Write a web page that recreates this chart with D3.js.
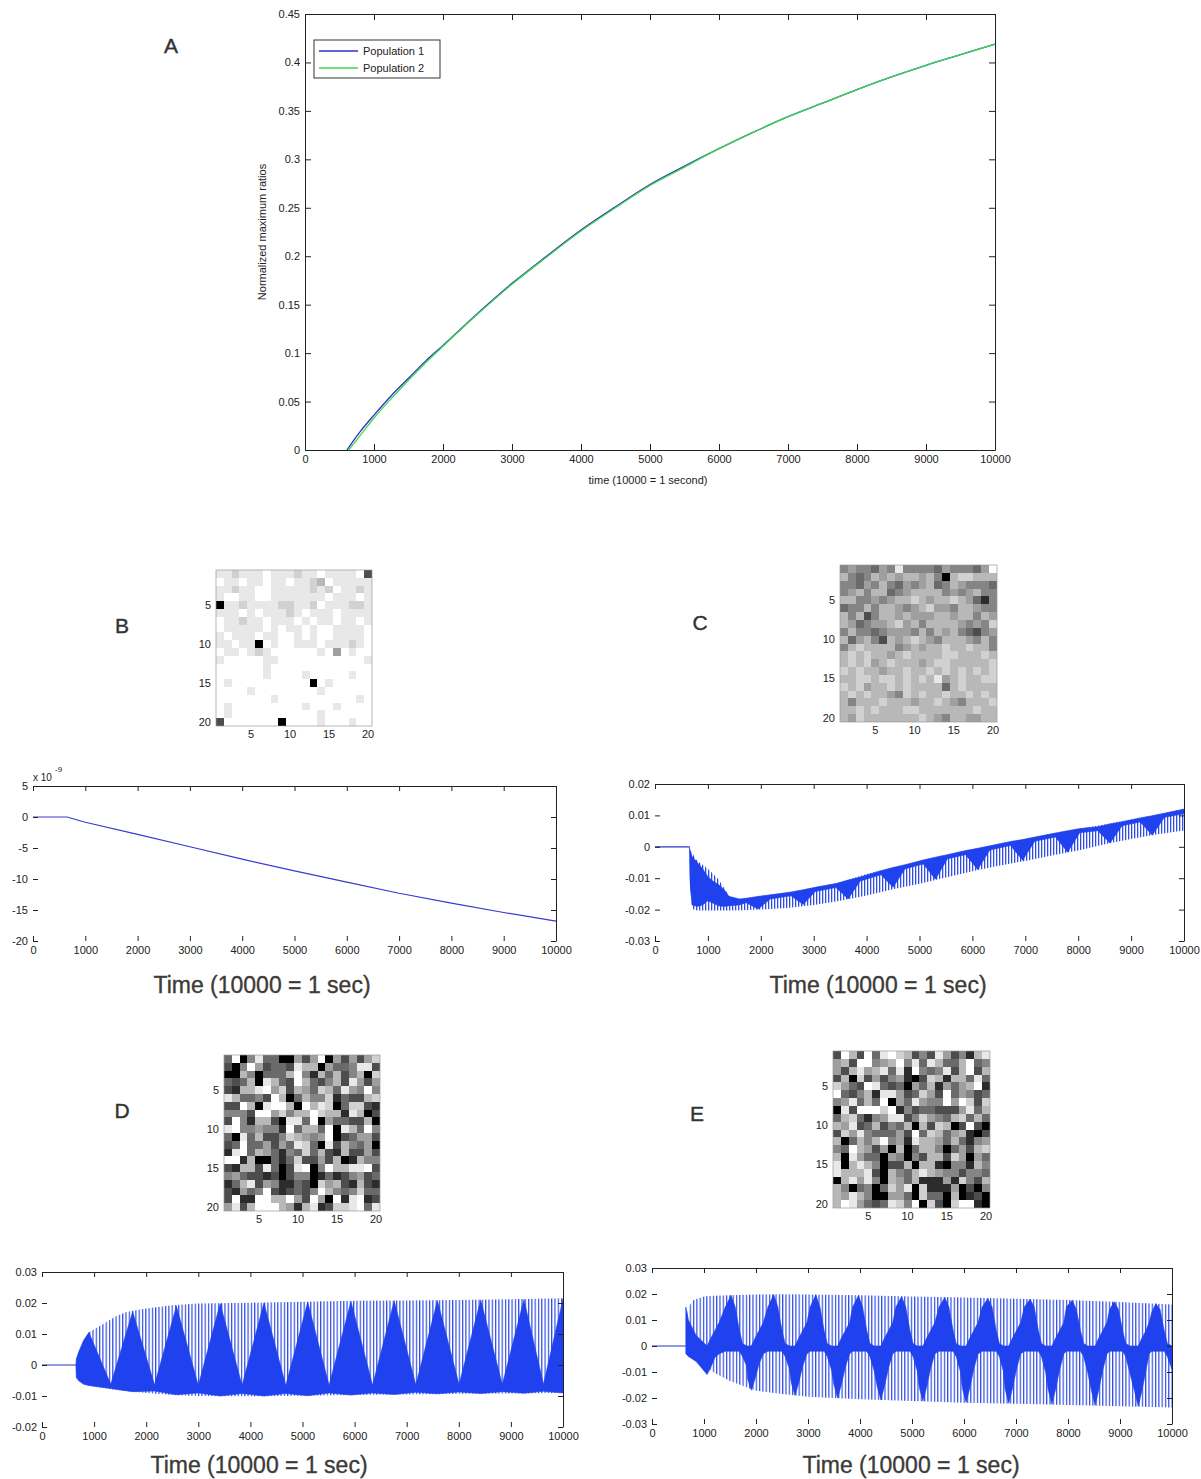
<!DOCTYPE html>
<html>
<head>
<meta charset="utf-8">
<script src="https://cdn.jsdelivr.net/npm/d3@7"></script>
<style>
  body { margin: 0; background: #fff; }
  svg text { font-family: "Liberation Sans", Arial, sans-serif; }
</style>
</head>
<body>
<svg id="fig" width="1201" height="1479"></svg>
<script>
// ---------- data ----------
const timeTicks = [0, 1000, 2000, 3000, 4000, 5000, 6000, 7000, 8000, 9000, 10000];

// panel A: normalized maximum ratios
const timeA = [609, 700, 800, 1000, 1250, 1500, 1750, 2000, 2500, 3000, 3500, 4000, 4500, 5000, 5500, 6000, 6500, 7000, 7500, 8000, 8500, 9000, 9500, 10000];
const pop1 = [0, 0.0095, 0.019, 0.036, 0.056, 0.074, 0.092, 0.108, 0.141, 0.172, 0.2, 0.227, 0.251, 0.274, 0.293, 0.311, 0.328, 0.344, 0.358, 0.372, 0.385, 0.397, 0.408, 0.419];
const timeA2 = [635, 700, 800, 1000, 1250, 1500, 1750, 2000, 2500, 3000, 3500, 4000, 4500, 5000, 5500, 6000, 6500, 7000, 7500, 8000, 8500, 9000, 9500, 10000];
const pop2 = [0, 0.006, 0.015, 0.033, 0.053, 0.072, 0.09, 0.107, 0.14, 0.171, 0.199, 0.226, 0.25, 0.273, 0.292, 0.311, 0.328, 0.344, 0.358, 0.372, 0.385, 0.397, 0.408, 0.419];
const ticksA = [0, 0.05, 0.1, 0.15, 0.2, 0.25, 0.3, 0.35, 0.4, 0.45];
const labelsA = ["0", "0.05", "0.1", "0.15", "0.2", "0.25", "0.3", "0.35", "0.4", "0.45"];

// weight matrices, 0 = black ... 9 = white
const heatB = [
  "88788 89888 78898 88892", "98898 89889 88769 88888", "88788 99888 88787 98878", "89988 99888 88889 88898",
  "08878 88877 88798 88778", "88898 98887 89888 98888", "98878 89888 98988 98898", "98888 89898 89899 88889",
  "89888 98899 89899 88889", "88988 09899 88898 88789", "98898 78999 99989 59899", "89999 98899 99999 99998",
  "99999 98999 99999 99999", "99999 98999 98999 99899", "98999 99999 99098 99999", "99998 99999 99989 99999",
  "99999 99899 99999 99989", "98999 99999 98999 89999", "98999 99999 99989 99999", "29999 99909 99989 99899"
];
const heatC = [
  "45443 54844 44354 44359", "64346 56566 56406 77666", "44354 64354 56346 54443", "45646 63456 66645 45644",
  "66445 45667 65667 65314", "34464 66545 67554 66544", "64624 66565 55665 66465", "65345 56756 46666 54547",
  "46443 45554 64656 43245", "63564 26567 65466 65464", "46766 66456 56676 67664", "67676 65676 66677 66676",
  "67675 67666 56776 66667", "76766 56676 67676 76767", "66776 77676 76856 76677", "76756 67676 66636 76666",
  "67676 65476 76676 67676", "64666 76665 66765 46667", "66767 66677 66666 66766", "65766 66666 76546 65566"
];
const heatD = [
  "39048 33005 25905 25257", "20495 23328 66053 34882", "00640 33369 41636 24607", "32360 86329 63246 28525",
  "21668 95726 53763 85494", "86334 29603 64471 32267", "22960 89960 96870 37721", "44429 95746 69766 18602",
  "29416 62088 39053 32260", "89445 44193 66390 86394", "30836 22476 54590 23552", "23933 52538 73082 64350",
  "18936 53143 73621 62252", "99160 03137 22526 01644", "21662 83028 90496 68892", "45322 12024 40131 24523",
  "13682 54113 20756 21621", "21534 92123 24964 34733", "29119 96695 29509 18912", "58269 99651 68127 78938"
];
const heatE = [
  "29629 38976 24285 24168", "56299 45694 83863 36934", "52685 68381 94348 26926", "26072 52451 02761 66383",
  "75329 83230 53615 35691", "93246 18852 37529 35423", "45836 39053 85449 59727", "08299 97914 23322 25836",
  "36731 45882 47543 67363", "65823 62436 06276 02920", "27584 33352 93763 56102", "60364 69451 86653 63145",
  "43965 25060 36640 35267", "60853 30540 42662 75053", "80686 40226 06610 44164", "86668 20643 68654 42443",
  "06858 40653 61115 17426", "64034 03758 07111 50204", "65864 00553 07330 60120", "69853 23874 90720 79910"
];

// panel B trace (units of 1e-9)
const timeB = [0, 650, 1000, 2000, 3000, 4000, 5000, 6000, 7000, 8000, 9000, 10000];
const valueB = [0, 0, -0.85, -2.8, -4.8, -6.8, -8.7, -10.5, -12.3, -13.9, -15.4, -16.8];

// oscillating traces: [time, upper envelope, lower envelope]
const envC = [
  [650, 0, 0], [660, -0.001, -0.012], [700, -0.002, -0.0198], [800, -0.0045, -0.0203], [1000, -0.007, -0.0203],
  [1200, -0.0103, -0.0203], [1400, -0.0156, -0.0203], [1600, -0.0168, -0.0202], [2000, -0.0156, -0.02],
  [2500, -0.0147, -0.0195], [3000, -0.013, -0.0185], [3500, -0.0114, -0.0172], [4000, -0.0087, -0.0155],
  [4500, -0.0066, -0.0135], [5000, -0.0045, -0.0118], [5500, -0.0026, -0.0098], [6000, -0.0008, -0.0078],
  [6500, 0.0008, -0.006], [7000, 0.0025, -0.0045], [7500, 0.0041, -0.0028], [8000, 0.0057, -0.0012],
  [8500, 0.0071, 0.0008], [9000, 0.0086, 0.0025], [9500, 0.0103, 0.004], [10000, 0.012, 0.0052]
];
// dense (solid) part of the trace: [time, top, bottom]
const denseC = [
  [650, 0, 0], [660, -0.001, -0.01], [700, -0.003, -0.0185], [800, -0.005, -0.019], [900, -0.007, -0.0185],
  [1000, -0.0095, -0.0172], [1100, -0.011, -0.018], [1200, -0.012, -0.0188], [1300, -0.0135, -0.019],
  [1400, -0.0158, -0.0188], [1600, -0.0166, -0.0185], [1720, -0.0164, -0.0178], [1950, -0.0158, -0.0198],
  [2180, -0.0153, -0.0166], [2570, -0.0144, -0.0156], [2800, -0.0137, -0.0184], [3030, -0.0129, -0.0142],
  [3420, -0.0117, -0.013], [3650, -0.0106, -0.0166], [3880, -0.0096, -0.0109], [4270, -0.0076, -0.0089],
  [4500, -0.0066, -0.0129], [4730, -0.0057, -0.007], [5070, -0.0042, -0.0055], [5300, -0.0033, -0.0103],
  [5530, -0.0025, -0.0038], [5870, -0.0012, -0.0025], [6100, -0.0005, -0.0072], [6330, 0.0003, -0.001],
  [6720, 0.0017, 0.0004], [6950, 0.0023, -0.0043], [7180, 0.0031, 0.0018], [7570, 0.0044, 0.0031],
  [7800, 0.0051, -0.0017], [8030, 0.0058, 0.0045], [8370, 0.0064, 0.0051], [8600, 0.0073, 0.0012],
  [8830, 0.008, 0.0067], [9170, 0.0092, 0.0079], [9400, 0.0099, 0.0037], [9630, 0.0107, 0.0094],
  [10000, 0.012, 0.0105]
];

const envD = [
  [650, 0, 0], [660, 0.002, -0.004], [700, 0.004, -0.005], [800, 0.008, -0.0062], [900, 0.0105, -0.0066],
  [1000, 0.0115, -0.007], [1200, 0.0135, -0.0075], [1400, 0.0156, -0.008], [1600, 0.017, -0.0084],
  [1800, 0.0177, -0.0087], [2000, 0.0182, -0.009], [2500, 0.0193, -0.0097], [3000, 0.0198, -0.01],
  [4000, 0.0201, -0.0101], [5000, 0.0204, -0.0099], [6000, 0.0207, -0.0097], [7000, 0.0208, -0.0095],
  [8000, 0.021, -0.0093], [9000, 0.0212, -0.0092], [10000, 0.0215, -0.009]
];
const denseD = [
  [650, 0, 0], [660, 0.002, -0.004], [700, 0.004, -0.005], [800, 0.008, -0.0062], [900, 0.0105, -0.0066],
  [1320, -0.0062, -0.0076], [1740, 0.0172, -0.0086], [2160, -0.0064, -0.0084], [2580, 0.019, -0.0096],
  [3000, -0.0066, -0.009], [3420, 0.0198, -0.01], [3840, -0.0066, -0.0092], [4260, 0.02, -0.01],
  [4680, -0.0066, -0.0092], [5100, 0.0203, -0.0099], [5510, -0.0065, -0.009], [5930, 0.0205, -0.0097],
  [6345, -0.0065, -0.009], [6760, 0.0207, -0.0095], [7175, -0.0064, -0.0088], [7590, 0.0208, -0.0093],
  [8005, -0.0063, -0.0087], [8420, 0.021, -0.0092], [8835, -0.0063, -0.0086], [9250, 0.0211, -0.0091],
  [9625, -0.0062, -0.0085], [10000, 0.0213, -0.009]
];

const envE = [
  [650, 0, 0], [660, 0.01, -0.002], [700, 0.015, -0.003], [800, 0.0177, -0.0045], [1000, 0.019, -0.0074],
  [1200, 0.0193, -0.0103], [1500, 0.0195, -0.0135], [2000, 0.0198, -0.0172], [2500, 0.0199, -0.0185],
  [3000, 0.0198, -0.0195], [4000, 0.0195, -0.0205], [5000, 0.019, -0.0212], [6000, 0.0187, -0.0218],
  [7000, 0.0182, -0.0222], [8000, 0.0177, -0.0227], [9000, 0.0169, -0.0232], [10000, 0.016, -0.0237]
];
const denseE = [
  [650, 0.015, -0.003], [700, 0.01, -0.004], [850, 0.004, -0.006], [1060, 0, -0.011],
  [1130, 0.003, -0.0083], [1210, 0.006, -0.0044], [1290, 0.009, -0.003], [1410, 0.015, -0.002], [1520, 0.0195, -0.002],
  [1600, 0.015, -0.002], [1680, 0.006, -0.002], [1740, 0.001, -0.004], [1820, 0, -0.0077], [1840, 0, -0.0128], [1910, 0, -0.017],
  [1980, 0.003, -0.0128], [2060, 0.006, -0.0068], [2140, 0.009, -0.003], [2230, 0.015, -0.002], [2340, 0.0198, -0.002],
  [2420, 0.015, -0.002], [2500, 0.006, -0.002], [2560, 0.001, -0.004], [2640, 0, -0.0086], [2680, 0, -0.0143], [2750, 0, -0.019],
  [2820, 0.003, -0.0143], [2900, 0.006, -0.0076], [2980, 0.009, -0.003], [3040, 0.015, -0.002], [3150, 0.0197, -0.002],
  [3230, 0.015, -0.002], [3310, 0.006, -0.002], [3370, 0.001, -0.004], [3450, 0, -0.009], [3500, 0, -0.015], [3570, 0, -0.02],
  [3640, 0.003, -0.015], [3720, 0.006, -0.008], [3800, 0.009, -0.003], [3860, 0.015, -0.002], [3970, 0.0194, -0.002],
  [4050, 0.015, -0.002], [4130, 0.006, -0.002], [4190, 0.001, -0.004], [4270, 0, -0.0093], [4330, 0, -0.0155], [4400, 0, -0.0207],
  [4470, 0.003, -0.0155], [4550, 0.006, -0.0083], [4630, 0.009, -0.003], [4690, 0.015, -0.002], [4800, 0.019, -0.002],
  [4880, 0.015, -0.002], [4960, 0.006, -0.002], [5020, 0.001, -0.004], [5100, 0, -0.0095], [5140, 0, -0.0159], [5210, 0, -0.0212],
  [5280, 0.003, -0.0159], [5360, 0.006, -0.0085], [5440, 0.009, -0.003], [5520, 0.015, -0.002], [5630, 0.0187, -0.002],
  [5710, 0.015, -0.002], [5790, 0.006, -0.002], [5850, 0.001, -0.004], [5930, 0, -0.0098], [5970, 0, -0.0163], [6040, 0, -0.0217],
  [6110, 0.003, -0.0163], [6190, 0.006, -0.0087], [6270, 0.009, -0.003], [6350, 0.015, -0.002], [6460, 0.0183, -0.002],
  [6540, 0.015, -0.002], [6620, 0.006, -0.002], [6680, 0.001, -0.004], [6760, 0, -0.0099], [6790, 0, -0.0165], [6860, 0, -0.022],
  [6930, 0.003, -0.0165], [7010, 0.006, -0.0088], [7090, 0.009, -0.003], [7160, 0.015, -0.002], [7270, 0.018, -0.002],
  [7350, 0.015, -0.002], [7430, 0.006, -0.002], [7490, 0.001, -0.004], [7570, 0, -0.0101], [7620, 0, -0.0168], [7690, 0, -0.0224],
  [7760, 0.003, -0.0168], [7840, 0.006, -0.009], [7920, 0.009, -0.003], [7970, 0.015, -0.002], [8080, 0.0176, -0.002],
  [8160, 0.014, -0.002], [8240, 0.006, -0.002], [8300, 0.001, -0.004], [8380, 0, -0.0103], [8450, 0, -0.0171], [8520, 0, -0.0228],
  [8590, 0.003, -0.0171], [8670, 0.006, -0.0091], [8750, 0.009, -0.003], [8800, 0.014, -0.002], [8890, 0.017, -0.002],
  [8970, 0.014, -0.002], [9050, 0.006, -0.002], [9110, 0.001, -0.004], [9190, 0, -0.0104], [9280, 0, -0.0174], [9350, 0, -0.0232],
  [9420, 0.003, -0.0174], [9500, 0.006, -0.0093], [9560, 0.009, -0.003], [9610, 0.013, -0.002], [9690, 0.0163, -0.002],
  [9770, 0.014, -0.002], [9850, 0.006, -0.002], [9910, 0.001, -0.004], [10000, 0, -0.009]
];

// flat pre-stimulus segment shared by the traces
const preTime = [0, 650];
const preValue = [0, 0];

// ---------- drawing ----------
const svg = d3.select("#fig");
const defs = svg.append("defs");
const traceBlue = "#1f42ee";
const inkColor = "#222";

function addHatch(id, period, lineW) {
  const p = defs.append("pattern").attr("id", id)
    .attr("patternUnits", "userSpaceOnUse").attr("width", period).attr("height", 8);
  p.append("rect").attr("width", lineW).attr("height", 8).attr("fill", "#2f4ce6");
}
addHatch("hatchDense", 3.0, 1.3);
addHatch("hatchLight", 3.3, 1.2);

function panelLetter(txt, x, y) {
  svg.append("text").attr("x", x).attr("y", y).attr("text-anchor", "middle")
    .attr("dominant-baseline", "central").style("font-size", "21px")
    .style("fill", "#333").style("stroke", "#333").style("stroke-width", 0.4).text(txt);
}

function timeTitle(x, y) {
  svg.append("text").attr("x", x).attr("y", y).attr("text-anchor", "middle")
    .attr("dominant-baseline", "central").style("font-size", "23px")
    .style("fill", "#3d3a38").style("stroke", "#3d3a38").style("stroke-width", 0.35)
    .text("Time (10000 = 1 sec)");
}

// MATLAB-like frame: ticks point inwards on all four sides
function frame(g, x, y, yVals, yLabels, tick, full) {
  const bottom = g.append("g").attr("transform", `translate(0,${y.range()[0]})`)
    .call(d3.axisBottom(x).tickValues(timeTicks).tickFormat(d => d).tickSizeInner(-tick).tickSizeOuter(0).tickPadding(5));
  const left = g.append("g").attr("transform", `translate(${x.range()[0]},0)`)
    .call(d3.axisLeft(y).tickValues(yVals).tickFormat((d, i) => yLabels[i]).tickSizeInner(-tick).tickSizeOuter(0).tickPadding(5));
  g.append("g").attr("transform", `translate(0,${y.range()[1]})`)
    .call(d3.axisTop(x).tickValues(timeTicks).tickFormat("").tickSizeInner(-tick).tickSizeOuter(0));
  g.append("g").attr("transform", `translate(${x.range()[1]},0)`)
    .call(d3.axisRight(y).tickValues(yVals).tickFormat("").tickSizeInner(-tick).tickSizeOuter(0));
  if (!full) {
    bottom.select(".domain").remove();
    left.select(".domain").remove();
  }
  g.selectAll(".tick text").style("font-size", "11px");
  g.selectAll("path.domain, .tick line").attr("stroke", inkColor);
  g.style("color", inkColor);
}

// ----- panel A -----
{
  const x = d3.scaleLinear().domain([0, 10000]).range([305, 995]);
  const y = d3.scaleLinear().domain([0, 0.45]).range([450, 14]);
  const g = svg.append("g");
  const line = d3.line().x(d => x(d[0])).y(d => y(d[1])).curve(d3.curveMonotoneX);
  g.append("path").datum(d3.zip(timeA, pop1)).attr("d", line)
    .attr("fill", "none").attr("stroke", "#2a30c8").attr("stroke-width", 1.3);
  g.append("path").datum(d3.zip(timeA2, pop2)).attr("d", line)
    .attr("fill", "none").attr("stroke", "#3fd84a").attr("stroke-width", 1.3);
  frame(g, x, y, ticksA, labelsA, 6, true);

  svg.append("text").attr("transform", "translate(266,232) rotate(-90)").attr("text-anchor", "middle")
    .style("font-size", "11px").style("fill", inkColor).text("Normalized maximum ratios");
  svg.append("text").attr("x", 648).attr("y", 484).attr("text-anchor", "middle")
    .style("font-size", "11px").style("fill", inkColor).text("time (10000 = 1 second)");

  // legend
  const lg = svg.append("g").attr("transform", "translate(314,40)");
  lg.append("rect").attr("width", 126).attr("height", 38).attr("fill", "#fff").attr("stroke", "#333");
  const items = [["Population 1", "#2a30c8"], ["Population 2", "#3fd84a"]];
  items.forEach(([name, col], i) => {
    const yy = 11 + i * 17;
    lg.append("line").attr("x1", 5).attr("x2", 44).attr("y1", yy).attr("y2", yy).attr("stroke", col).attr("stroke-width", 1.3);
    lg.append("text").attr("x", 49).attr("y", yy + 4).style("font-size", "11px").style("fill", inkColor).text(name);
  });
  panelLetter("A", 171, 45);
}

// ----- heatmaps -----
const grayScale = v => d3.interpolateRgb("#000", "#fff")(Math.pow(v / 9, 0.8));
function heatmap(rows, px, py, size) {
  const idx = d3.range(1, 21);
  const x = d3.scaleBand().domain(idx).range([px, px + size]);
  const y = d3.scaleBand().domain(idx).range([py, py + size]);
  const cells = [];
  rows.forEach((r, i) => r.replace(/ /g, "").split("").forEach((c, j) => cells.push({ r: i + 1, c: j + 1, v: +c })));
  const g = svg.append("g");
  g.selectAll("rect.cell").data(cells).join("rect").attr("class", "cell")
    .attr("x", d => x(d.c)).attr("y", d => y(d.r))
    .attr("width", x.bandwidth() + 0.4).attr("height", y.bandwidth() + 0.4)
    .attr("fill", d => grayScale(d.v)).attr("shape-rendering", "crispEdges");
  g.append("rect").attr("x", px).attr("y", py).attr("width", size).attr("height", size)
    .attr("fill", "none").attr("stroke", "#999").attr("stroke-width", 0.7);
  const ax = g.append("g").attr("transform", `translate(0,${py + size})`)
    .call(d3.axisBottom(x).tickValues([5, 10, 15, 20]).tickSize(0).tickPadding(4));
  const ay = g.append("g").attr("transform", `translate(${px},0)`)
    .call(d3.axisLeft(y).tickValues([5, 10, 15, 20]).tickSize(0).tickPadding(5));
  ax.select(".domain").remove();
  ay.select(".domain").remove();
  g.selectAll(".tick text").style("font-size", "11px");
  g.style("color", inkColor);
}
heatmap(heatB, 216, 570, 156);
heatmap(heatC, 840, 565, 157);
heatmap(heatD, 224, 1055, 156);
heatmap(heatE, 833, 1051, 157);

// ----- panel B trace -----
{
  const x = d3.scaleLinear().domain([0, 10000]).range([33, 556]);
  const y = d3.scaleLinear().domain([-20, 5]).range([941, 786]);
  const g = svg.append("g");
  g.append("path").datum(d3.zip(timeB, valueB))
    .attr("d", d3.line().x(d => x(d[0])).y(d => y(d[1])))
    .attr("fill", "none").attr("stroke", "#3a3ad2").attr("stroke-width", 1.2);
  frame(g, x, y, [5, 0, -5, -10, -15, -20], ["5", "0", "-5", "-10", "-15", "-20"], 5, false);
  svg.append("text").attr("x", 33).attr("y", 781).style("font-size", "10px").style("fill", inkColor).text("x 10");
  svg.append("text").attr("x", 55).attr("y", 772).style("font-size", "8px").style("fill", inkColor).text("-9");
  panelLetter("B", 122, 625);
  timeTitle(262, 985);
}

// ----- oscillating traces (C, D, E) -----
function oscPanel(left, right, top, bottom, yDomain, yVals, yLabels, env, dense, hatchId) {
  const x = d3.scaleLinear().domain([0, 10000]).range([left, right]);
  const y = d3.scaleLinear().domain(yDomain).range([bottom, top]);
  const g = svg.append("g");
  g.append("path").datum(env)
    .attr("d", d3.area().x(d => x(d[0])).y0(d => y(d[2])).y1(d => y(d[1])))
    .attr("fill", `url(#${hatchId})`);
  g.append("path").datum(dense)
    .attr("d", d3.area().x(d => x(d[0])).y0(d => y(d[2])).y1(d => y(d[1])))
    .attr("fill", traceBlue).attr("stroke", traceBlue).attr("stroke-width", 0.6);
  g.append("path").datum(d3.zip(preTime, preValue))
    .attr("d", d3.line().x(d => x(d[0])).y(d => y(d[1])))
    .attr("fill", "none").attr("stroke", "#2536c8").attr("stroke-width", 1.2);
  frame(g, x, y, yVals, yLabels, 5, false);
}

oscPanel(655, 1184, 784, 941, [-0.03, 0.02], [0.02, 0.01, 0, -0.01, -0.02, -0.03],
  ["0.02", "0.01", "0", "-0.01", "-0.02", "-0.03"], envC, denseC, "hatchDense");
panelLetter("C", 700, 622);
timeTitle(878, 985);

oscPanel(42, 563, 1272, 1427, [-0.02, 0.03], [0.03, 0.02, 0.01, 0, -0.01, -0.02],
  ["0.03", "0.02", "0.01", "0", "-0.01", "-0.02"], envD, denseD, "hatchLight");
panelLetter("D", 122, 1110);
timeTitle(259, 1465);

oscPanel(652, 1172, 1268, 1424, [-0.03, 0.03], [0.03, 0.02, 0.01, 0, -0.01, -0.02, -0.03],
  ["0.03", "0.02", "0.01", "0", "-0.01", "-0.02", "-0.03"], envE, denseE, "hatchLight");
panelLetter("E", 697, 1113);
timeTitle(911, 1465);
</script>
</body>
</html>
